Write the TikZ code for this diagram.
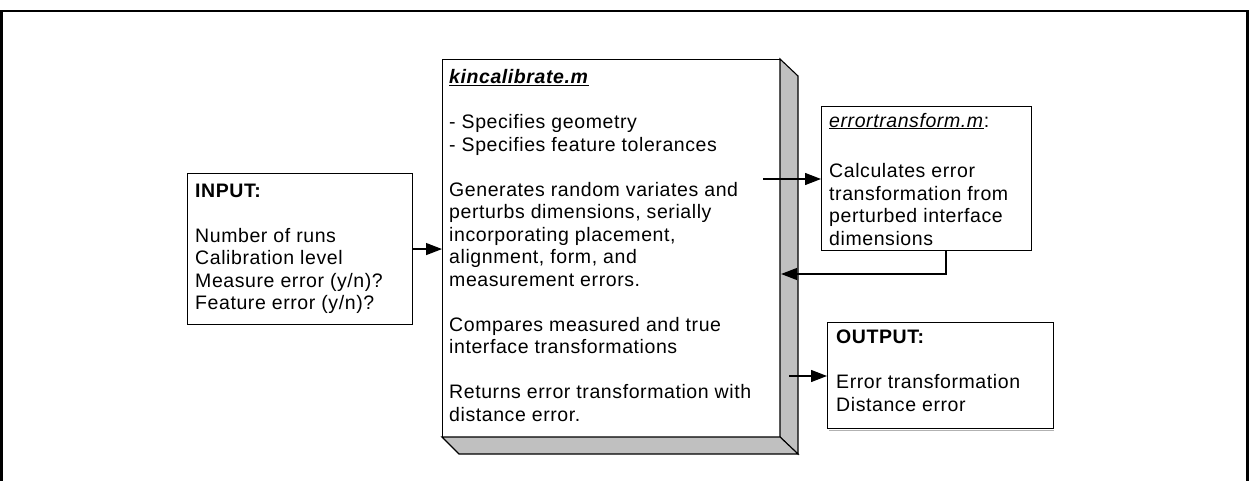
\documentclass[tikz,border=0pt]{standalone}
\usepackage{fontspec}
\setmainfont{Liberation Sans}[LetterSpace=3]
\usetikzlibrary{arrows.meta,calc}
\definecolor{sidegray}{HTML}{C0C0C0}
\tikzset{
  boxshape/.style={draw=black, line width=1.1pt, minimum width=#1, inner sep=0pt, anchor=north west},
  txt/.style={anchor=north west, inner sep=0pt, align=left, font=\fontsize{19.5}{22.5}\selectfont},
  arr/.style={line width=1.3pt, -{Triangle[length=16pt,width=12pt]}},
  face/.style={fill=sidegray, draw=black, line width=1.1pt, line join=miter}
}
\begin{document}
\begin{tikzpicture}[x=1pt,y=-1pt]
\useasboundingbox (0,0) rectangle (1249,481);
% outer frame
\draw[line width=2.6pt] (1.5,500) -- (1.5,11) -- (1247.5,11) -- (1247.5,500);
% main 3D box
\node[boxshape=338pt, minimum height=378pt] (main) at (442,59) {};
\coordinate (m1) at (780,59);
\coordinate (m2) at (798,76);
\coordinate (m3) at (798,454);
\coordinate (m4) at (780,437);
\coordinate (m5) at (459,454);
\coordinate (m6) at (442,437);
\draw[face] (m1) -- (m2) -- (m3) -- (m4) -- cycle;
\draw[face] (m6) -- (m4) -- (m3) -- (m5) -- cycle;
\node[txt] (maintxt) at (449,68) {\strut\underline{\textbf{\textit{kincalibrate.m}}}\\[22.5pt]
- Specifies geometry\\
- Specifies feature tolerances\\[22.5pt]
Generates random variates and\\
perturbs dimensions, serially\\
incorporating placement,\\
alignment, form, and\\
measurement errors.\\[22.5pt]
Compares measured and true\\
interface transformations\\[22.5pt]
Returns error transformation with\\
distance error.};
% input box
\node[boxshape=225pt, minimum height=151pt] (input) at (187,173) {};
\node[txt] (inputtxt) at (195,181.1) {\strut\textbf{INPUT:}\\[22.5pt]
Number of runs\\
Calibration level\\
Measure error (y/n)?\\
Feature error (y/n)?};
% errortransform box
\node[boxshape=210pt, minimum height=144pt] (err) at (821,106) {};
\node[txt] (errtxt) at (829,111.1) {\strut\underline{\textit{errortransform.m}}:\\[28pt]
Calculates error\\
transformation from\\
perturbed interface\\
dimensions};
% output box
\draw[gray!60, line width=1pt] (829,430.5) -- (1054,430.5);
\node[boxshape=226pt, minimum height=106pt, fill=white] (out) at (827,322) {};
\node[txt] (outtxt) at (836,328) {\strut\textbf{OUTPUT:}\\[22.5pt]
Error transformation\\
Distance error};
% connectors
\draw[arr] (input.east) -- (input.east -| main.west);
\coordinate (a2) at (763,179);
\draw[arr] (a2) -- (a2 -| err.west);
\coordinate (rt) at (946,274);
\draw[arr] (err.south -| rt) -- (rt) -- (rt -| main.east);
\coordinate (a4) at (789,376);
\draw[arr] (a4) -- (a4 -| out.west);
\end{tikzpicture}
\end{document}
